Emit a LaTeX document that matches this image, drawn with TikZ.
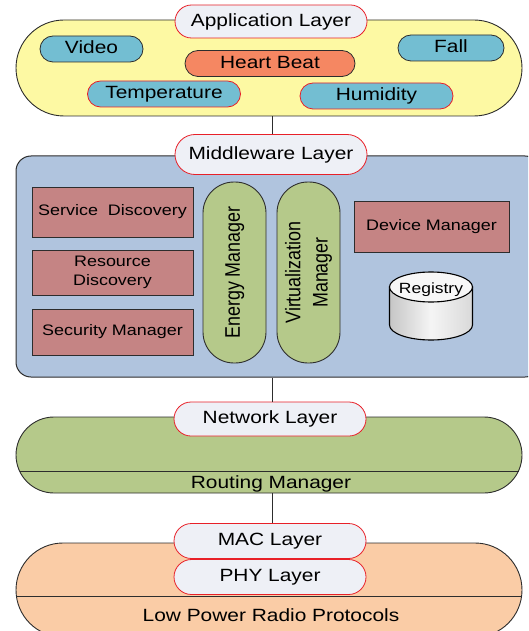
\documentclass[tikz,border=0pt]{standalone}
\usepackage{fontspec}
\setmainfont{Liberation Sans}
\newfontfamily\widefont[FakeStretch=1.18]{Liberation Sans}
\usetikzlibrary{shapes.misc}

% colours of the stack
\definecolor{appyellow}{RGB}{253,249,163}
\definecolor{mwblue}{RGB}{176,196,222}
\definecolor{netgreen}{RGB}{181,201,138}
\definecolor{peach}{RGB}{250,204,166}
\definecolor{labelfill}{RGB}{238,240,246}
\definecolor{redline}{RGB}{232,32,40}
\definecolor{darkline}{RGB}{45,45,45}
\definecolor{teal}{RGB}{115,190,210}
\definecolor{beat}{RGB}{245,135,98}
\definecolor{rosy}{RGB}{197,132,132}

\newcommand\labfont{\widefont\fontsize{17.7}{21}\selectfont}
\newcommand\itemfont{\widefont\fontsize{15.2}{19}\selectfont}
\newcommand\regfont{\widefont\fontsize{14.8}{18}\selectfont}
\newcommand\upfont{\fontsize{17.9}{23}\selectfont}
% upright text set sideways keeps the same broad look as the rest
\newcommand\thickened[1]{\scalebox{1}[1.18]{\begin{tabular}{@{}c@{}}#1\end{tabular}}}

\tikzset{
  bigpill/.style={rounded rectangle, draw=darkline, line width=0.9pt, inner sep=0pt},
  layerlabel/.style={rounded rectangle, draw=redline, line width=0.8pt, fill=labelfill,
    minimum width=192pt, inner sep=0pt, font=\labfont, text height=12.8pt, text depth=3.6pt},
  apptag/.style={rounded rectangle, line width=0.8pt, inner sep=0pt, minimum height=26pt,
    font=\labfont, text height=12.8pt, text depth=3.6pt},
  modbox/.style={rectangle, draw=darkline, line width=0.9pt, fill=rosy, inner sep=0pt,
    minimum width=161pt, font=\itemfont, align=center},
  vpill/.style={rectangle, rounded corners=31pt, draw=darkline, line width=0.9pt,
    fill=netgreen, minimum width=63pt, minimum height=181pt, inner sep=0pt},
  sidetext/.style={rotate=90, font=\upfont, inner sep=0pt},
  link/.style={draw=darkline, line width=1pt},
  plaintext/.style={inner sep=0pt, font=\labfont, anchor=base}
}

\begin{document}
\begin{tikzpicture}[x=1pt,y=-1pt]
\useasboundingbox (0,0) rectangle (528,631);
\clip (0,0) rectangle (528,631);

% layer bodies
\node[bigpill, fill=appyellow, minimum width=506pt, minimum height=96pt] (app) at (269,68) {};
\node[rectangle, rounded corners=15pt, draw=darkline, line width=1pt, fill=mwblue,
      minimum width=524pt, minimum height=221pt] (mw) at (278,266.5) {};
\node[bigpill, fill=netgreen, minimum width=506pt, minimum height=76pt] (net) at (269,455) {};
\node[bigpill, fill=peach, minimum width=506pt, minimum height=94pt] (radio) at (269,590) {};

% dividers inside the lower layers
\draw[darkline, line width=0.9pt] (19.5,471) -- (518.5,471);
\draw[darkline, line width=0.9pt] (16.4,596) -- (521.6,596);

% layer titles
\node[layerlabel, minimum height=33pt] (applbl) at (271,21.5) {Application Layer};
\node[layerlabel, minimum height=40pt] (mwlbl) at (271,154.5) {Middleware Layer};
\node[layerlabel, minimum height=34pt] (netlbl) at (270,419) {Network Layer};
\node[layerlabel, minimum height=35pt] (maclbl) at (270,541) {MAC Layer};
\node[layerlabel, minimum height=35pt] (phylbl) at (270,577) {PHY Layer};

% links between layers
\draw[link] (mwlbl.north -| 272,0) -- (app.south -| 272,0);
\draw[link] (mw.south -| 272,0) -- (netlbl.north -| 272,0);
\draw[link] (net.south -| 272,0) -- (maclbl.north -| 272,0);

% application services
\node[apptag, draw=darkline, fill=teal, minimum width=103pt] (video) at (91.5,49) {Video};
\node[apptag, draw=darkline, fill=teal, minimum width=106pt] (fall) at (451,48) {Fall};
\node[apptag, draw=darkline, fill=beat, minimum width=170pt] (beat) at (270,63.5) {Heart Beat};
\node[apptag, draw=redline, fill=teal, minimum width=153pt] (temp) at (164,94) {Temperature};
\node[apptag, draw=redline, fill=teal, minimum width=153pt] (hum) at (376.5,96) {Humidity};

% middleware modules
\node[modbox, minimum height=50pt] (service) at (112.5,212) {Service\ \ Discovery};
\node[modbox, minimum height=45pt] (resource) at (112.5,272.5) {Resource\\Discovery};
\node[modbox, minimum height=46pt] (security) at (112.5,332) {Security Manager};
\node[modbox, minimum width=155pt, minimum height=51pt] (device) at (431.5,226.5) {Device Manager};

\node[vpill] (energy) at (234.5,272.5) {};
\node[sidetext] (energytxt) at (energy.center) {\thickened{Energy Manager}};
\node[vpill] (virt) at (308.5,272.5) {};
\node[sidetext] (virttxt) at (virt.center) {\thickened{Virtualization\\Manager}};

% registry store
\path[shading=axis, left color=gray!45, right color=gray!30, middle color=gray!8,
      draw=black, line width=1.1pt]
  (389.5,287) -- (389.5,325) arc[start angle=180, end angle=0, x radius=41.5, y radius=15]
  -- (472.5,287) -- cycle;
\draw[fill=gray!6, draw=black, line width=1.1pt] (431,287) ellipse [x radius=41.5, y radius=15];
\node[font=\regfont, inner sep=0pt] (registry) at (431,290) {Registry};

% captions along the bottom bands
\node[plaintext] (routing) at (271,488) {Routing Manager};
\node[plaintext] (lowpower) at (271,621) {Low Power Radio Protocols};
\end{tikzpicture}
\end{document}
